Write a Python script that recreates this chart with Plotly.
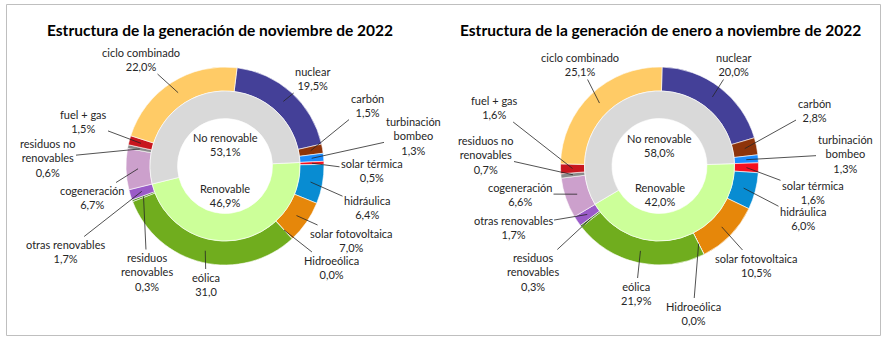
import math
import plotly.graph_objects as go

W, H = 886, 340

# ---------------- data ----------------
sources = ["nuclear", "carbón", "turbinación<br>bombeo", "solar térmica", "hidráulica",
           "solar fotovoltaica", "Hidroeólica", "eólica", "residuos<br>renovables",
           "otras renovables", "cogeneración", "residuos no<br>renovables", "fuel + gas",
           "ciclo combinado"]
nov_values = [19.5, 1.5, 1.3, 0.5, 6.4, 7.0, 0.0, 31.0, 0.3, 1.7, 6.7, 0.6, 1.5, 22.0]
nov_texts = ["19,5%", "1,5%", "1,3%", "0,5%", "6,4%", "7,0%", "0,0%", "31,0", "0,3%",
             "1,7%", "6,7%", "0,6%", "1,5%", "22,0%"]
ytd_values = [20.0, 2.8, 1.3, 1.6, 6.0, 10.5, 0.0, 21.9, 0.3, 1.7, 6.6, 0.7, 1.6, 25.1]
ytd_texts = ["20,0%", "2,8%", "1,3%", "1,6%", "6,0%", "10,5%", "0,0%", "21,9%", "0,3%",
             "1,7%", "6,6%", "0,7%", "1,6%", "25,1%"]
groups = ["Renovable", "No renovable"]
nov_group = [46.9, 53.1]
ytd_group = [42.0, 58.0]
nov_group_texts = ["46,9%", "53,1%"]
ytd_group_texts = ["42,0%", "58,0%"]
n_leading_nonrenew = 3  # nuclear, carbón, turbinación before renewables

titles = ["Estructura de la generación de noviembre de 2022",
          "Estructura de la generación de enero a noviembre de 2022"]

# ---------------- style ----------------
src_colors = ["#444098", "#8E340A", "#1A8CFF", "#F51020", "#088CD2", "#E6870A", "#2F6FB0",
              "#70AD1E", "#4F8A20", "#9A5BC8", "#CCA0CC", "#8A8A8A", "#C8161E", "#FFCB66"]
grp_colors = ["#CCFF99", "#D9D9D9"]
FONT = "Lato"

# layout geometry (pixels)
panels = [
    dict(cx=225, cy=166, rot=7.0,
         pos=[(312, 78), (367, 105), (413, 136), (372, 171), (367, 207), (351, 240),
              (331, 267), (206, 284), (147, 272), (65, 251.5), (92, 197.5), (47, 158),
              (83, 121.5), (141, 59)],
         title_x=220, nr_y=144, r_y=195),
    dict(cx=659.5, cy=166, rot=1.5,
         pos=[(733, 64.5), (814, 110), (845, 154), (813, 192.5), (803, 219), (756, 265),
              (693, 313), (636, 293), (533, 272), (513, 227), (520, 194), (485, 155),
              (494, 107), (580, 64.5)],
         title_x=660, nr_y=145, r_y=194),
]
R_OUT, R_MID, R_IN = 99, 75, 47.5
R_TIP = 87


def dom(cx, cy, r):
    return dict(x=[(cx - r) / W, (cx + r) / W], y=[(H - cy - r) / H, (H - cy + r) / H])


fig = go.Figure()
annotations = []

datasets = [(nov_values, nov_texts, nov_group, nov_group_texts),
            (ytd_values, ytd_texts, ytd_group, ytd_group_texts)]

for p, (vals, txts, gvals, gtxts), title in zip(panels, datasets, titles):
    cx, cy, rot = p["cx"], p["cy"], p["rot"]
    total = sum(vals)
    fig.add_trace(go.Pie(
        values=vals, labels=[s.replace("<br>", " ") for s in sources], sort=False,
        direction="clockwise", rotation=rot, hole=R_MID / R_OUT,
        marker=dict(colors=src_colors, line=dict(color="white", width=0.6)),
        textinfo="none", hoverinfo="label+value", showlegend=False,
        domain=dom(cx, cy, R_OUT)))
    inner_rot = rot + sum(vals[:n_leading_nonrenew]) / total * 360
    fig.add_trace(go.Pie(
        values=gvals, labels=groups, sort=False, direction="clockwise",
        rotation=inner_rot, hole=R_IN / R_MID,
        marker=dict(colors=grp_colors, line=dict(color="white", width=0.6)),
        textinfo="none", hoverinfo="label+value", showlegend=False,
        domain=dom(cx, cy, R_MID)))

    # leader-line labels
    cum = 0.0
    for i, v in enumerate(vals):
        mid = rot + (cum + v / 2) / total * 360
        cum += v
        a = math.radians(mid)
        tx = cx + R_TIP * math.sin(a)
        ty = cy - R_TIP * math.cos(a)
        lx, ly = p["pos"][i]
        annotations.append(dict(
            x=tx / W, y=1 - ty / H, xref="paper", yref="paper",
            ax=lx - tx, ay=ly - ty, axref="pixel", ayref="pixel",
            xanchor="center", yanchor="middle",
            text=f"{sources[i]}<br>{txts[i]}", showarrow=True, arrowhead=0,
            arrowwidth=0.8, arrowcolor="#262626", standoff=0,
            font=dict(family=FONT, size=11, color="#262626"), align="center"))

    for gy, gi in ((p["nr_y"], 1), (p["r_y"], 0)):
        annotations.append(dict(x=cx / W, y=1 - gy / H, xref="paper", yref="paper",
                                xanchor="center", yanchor="middle",
                                text=f"{groups[gi]}<br>{gtxts[gi]}", showarrow=False,
                                font=dict(family=FONT, size=11, color="#262626")))
    annotations.append(dict(x=p["title_x"] / W, y=1 - 30 / H, xref="paper", yref="paper",
                            xanchor="center", yanchor="middle",
                            text=f"<b>{title}</b>", showarrow=False,
                            font=dict(family=FONT, size=15.5, color="black")))

fig.update_layout(
    width=W, height=H, margin=dict(l=0, r=0, t=0, b=0),
    paper_bgcolor="white", plot_bgcolor="white",
    annotations=annotations,
    shapes=[dict(type="rect", xref="paper", yref="paper",
                 x0=6.5 / W, x1=880.5 / W, y0=1 - 335.5 / H, y1=1 - 4.5 / H,
                 line=dict(color="#BFBFBF", width=1), fillcolor="rgba(0,0,0,0)")],
)

fig.write_html("out.html")
